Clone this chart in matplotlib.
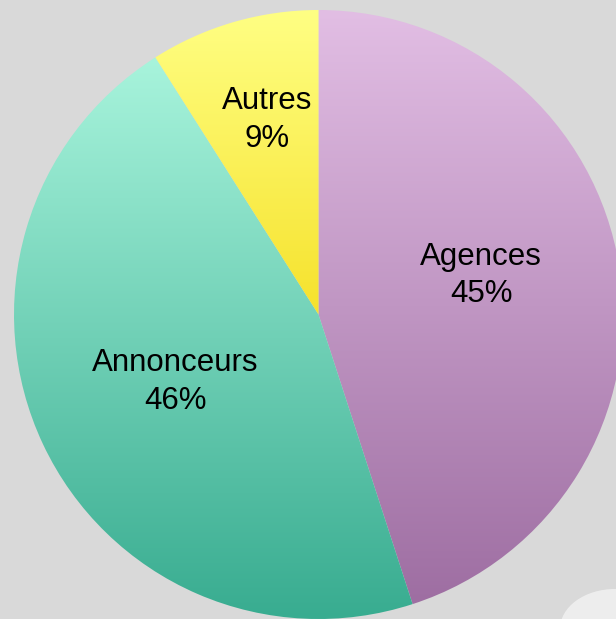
import matplotlib
matplotlib.use('Agg')
import matplotlib.pyplot as plt
import numpy as np
from matplotlib.colors import LinearSegmentedColormap
from matplotlib.patches import Ellipse

# données du graphique
categories = ['Agences', 'Annonceurs', 'Autres']
parts = [45, 46, 9]

# dégradés (haut -> bas) pour chaque part
top_colors = ['#E2BEE4', '#A8F4DC', '#FFFF84']
bottom_colors = ['#9E6EA2', '#38AC90', '#F6E22C']

# placement des étiquettes : distance relative au rayon, décalage d'angle
label_dist = [0.55, 0.52, 0.66]
label_shift = [4.5, 0, -1.5]

W, H = 616, 619
cx, cy, r = 318.5, 619 - 314.5, 304.5

fig = plt.figure(figsize=(W / 100, H / 100), dpi=100)
fig.patch.set_facecolor('#D9D9D9')
ax = fig.add_axes([0, 0, 1, 1])
ax.set_facecolor('#D9D9D9')

# petite tache claire en bas à droite du fond
ax.add_patch(Ellipse((615, -10), 110, 80, color='white', alpha=0.55, lw=0, zorder=0))

wedges, _ = ax.pie(parts, startangle=90, counterclock=False,
                   center=(cx, cy), radius=r, frame=True,
                   wedgeprops=dict(linewidth=0))

for i, w in enumerate(wedges):
    ext = w.get_path().get_extents()
    cmap = LinearSegmentedColormap.from_list('g%d' % i, [bottom_colors[i], top_colors[i]])
    grad = np.linspace(1, 0, 256).reshape(-1, 1)
    im = ax.imshow(grad, cmap=cmap, aspect='auto', origin='upper',
                   extent=(ext.x0, ext.x1, ext.y0, ext.y1), zorder=2,
                   interpolation='bilinear')
    im.set_clip_path(w)
    w.set_facecolor('none')

    ang = np.deg2rad((w.theta1 + w.theta2) / 2 + label_shift[i])
    tx = cx + label_dist[i] * r * np.cos(ang)
    ty = cy + label_dist[i] * r * np.sin(ang)
    ax.text(tx, ty, '%s\n%d%%' % (categories[i], parts[i]), ha='center', va='center',
            fontsize=22.5, family='Liberation Sans', color='black',
            linespacing=1.33, zorder=5)

ax.set_xlim(0, W)
ax.set_ylim(0, H)
ax.set_aspect('auto')
ax.axis('off')

fig.savefig('out.png', dpi=100, facecolor=fig.get_facecolor())
